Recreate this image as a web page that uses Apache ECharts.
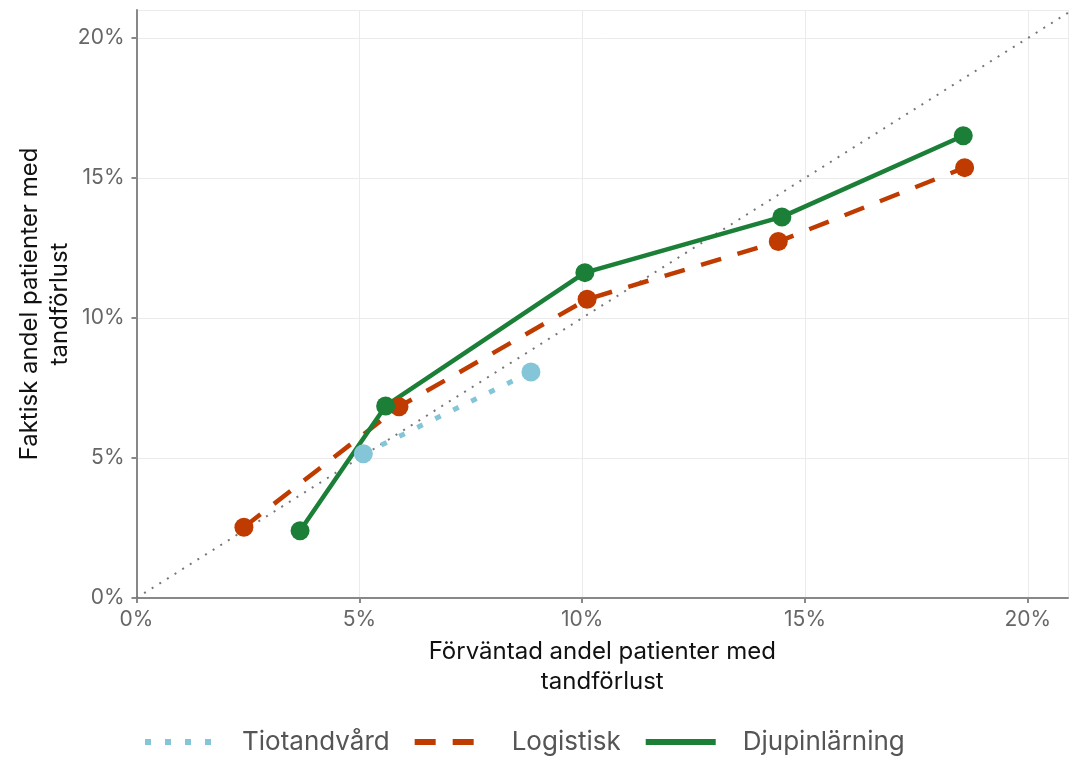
<!DOCTYPE html>
<html>
<head>
<meta charset="utf-8">
<script src="https://cdn.jsdelivr.net/npm/echarts@6/dist/echarts.min.js"></script>
<style>
  html, body { margin: 0; padding: 0; background: #fff; }
  #chart { width: 1070px; height: 758px; }
</style>
</head>
<body>
<div id="chart"></div>
<script>
// expected vs actual share of patients with tooth loss (%)
const tiotandvard = [[5.09, 5.15], [8.85, 8.07]];
const logistisk = [[2.41, 2.53], [5.89, 6.83], [10.11, 10.67], [14.40, 12.73], [18.58, 15.37]];
const djupinlarning = [[3.67, 2.40], [5.59, 6.86], [10.06, 11.62], [14.48, 13.61], [18.55, 16.51]];
const diagonal = [[0, 0], [22, 22]];
const seriesNames = ["Tiotandvård", "Logistisk", "Djupinlärning"];

const font = "Inter";
const chart = echarts.init(document.getElementById("chart"));

const axisCommon = {
  type: "value",
  min: 0,
  interval: 5,
  axisLine: { show: true, lineStyle: { color: "#888", width: 2 } },
  axisTick: { show: true, length: 5, lineStyle: { color: "#888", width: 2 } },
  axisLabel: { color: "#666", fontSize: 21, fontFamily: font, formatter: "{value}%" },
  splitLine: { show: true, lineStyle: { color: "#ebebeb", width: 1 } },
  nameLocation: "middle",
  nameMoveOverlap: false,
  nameTextStyle: { color: "#111", fontSize: 24, fontFamily: font, lineHeight: 30 }
};

chart.setOption({
  animation: false,
  grid: { left: 136.5, right: 2, top: 10, bottom: 160 },
  xAxis: Object.assign({}, axisCommon, {
    max: 20.9,
    name: "Förväntad andel patienter med\ntandförlust",
    nameGap: 39,
    axisLabel: Object.assign({}, axisCommon.axisLabel, { margin: 11, showMaxLabel: false })
  }),
  yAxis: Object.assign({}, axisCommon, {
    max: 21,
    name: "Faktisk andel patienter med\ntandförlust",
    nameGap: 62,
    axisLabel: Object.assign({}, axisCommon.axisLabel, { margin: 12, showMaxLabel: false })
  }),
  legend: {
    data: seriesNames,
    top: 724,
    left: 137,
    itemWidth: 70,
    itemHeight: 14,
    itemGap: 22,
    itemStyle: { opacity: 0 },
    lineStyle: { width: 6 },
    textStyle: { color: "#555", fontSize: 26, fontFamily: font, padding: [0, 0, 0, 22] }
  },
  series: [
    {
      type: "line",
      data: diagonal,
      symbol: "none",
      silent: true,
      lineStyle: { color: "#777", width: 2, type: [2, 7] },
      z: 1
    },
    {
      name: "Tiotandvård",
      type: "line",
      data: tiotandvard,
      symbol: "circle",
      symbolSize: 19,
      color: "#84c6d8",
      lineStyle: { width: 5, type: [6, 14], cap: "butt" }
    },
    {
      name: "Logistisk",
      type: "line",
      data: logistisk,
      symbol: "circle",
      symbolSize: 19,
      color: "#bf3b00",
      lineStyle: { width: 4.5, type: [21, 17], cap: "butt" }
    },
    {
      name: "Djupinlärning",
      type: "line",
      data: djupinlarning,
      symbol: "circle",
      symbolSize: 19,
      color: "#1b7f37",
      lineStyle: { width: 4.5 }
    }
  ]
});
</script>
</body>
</html>
